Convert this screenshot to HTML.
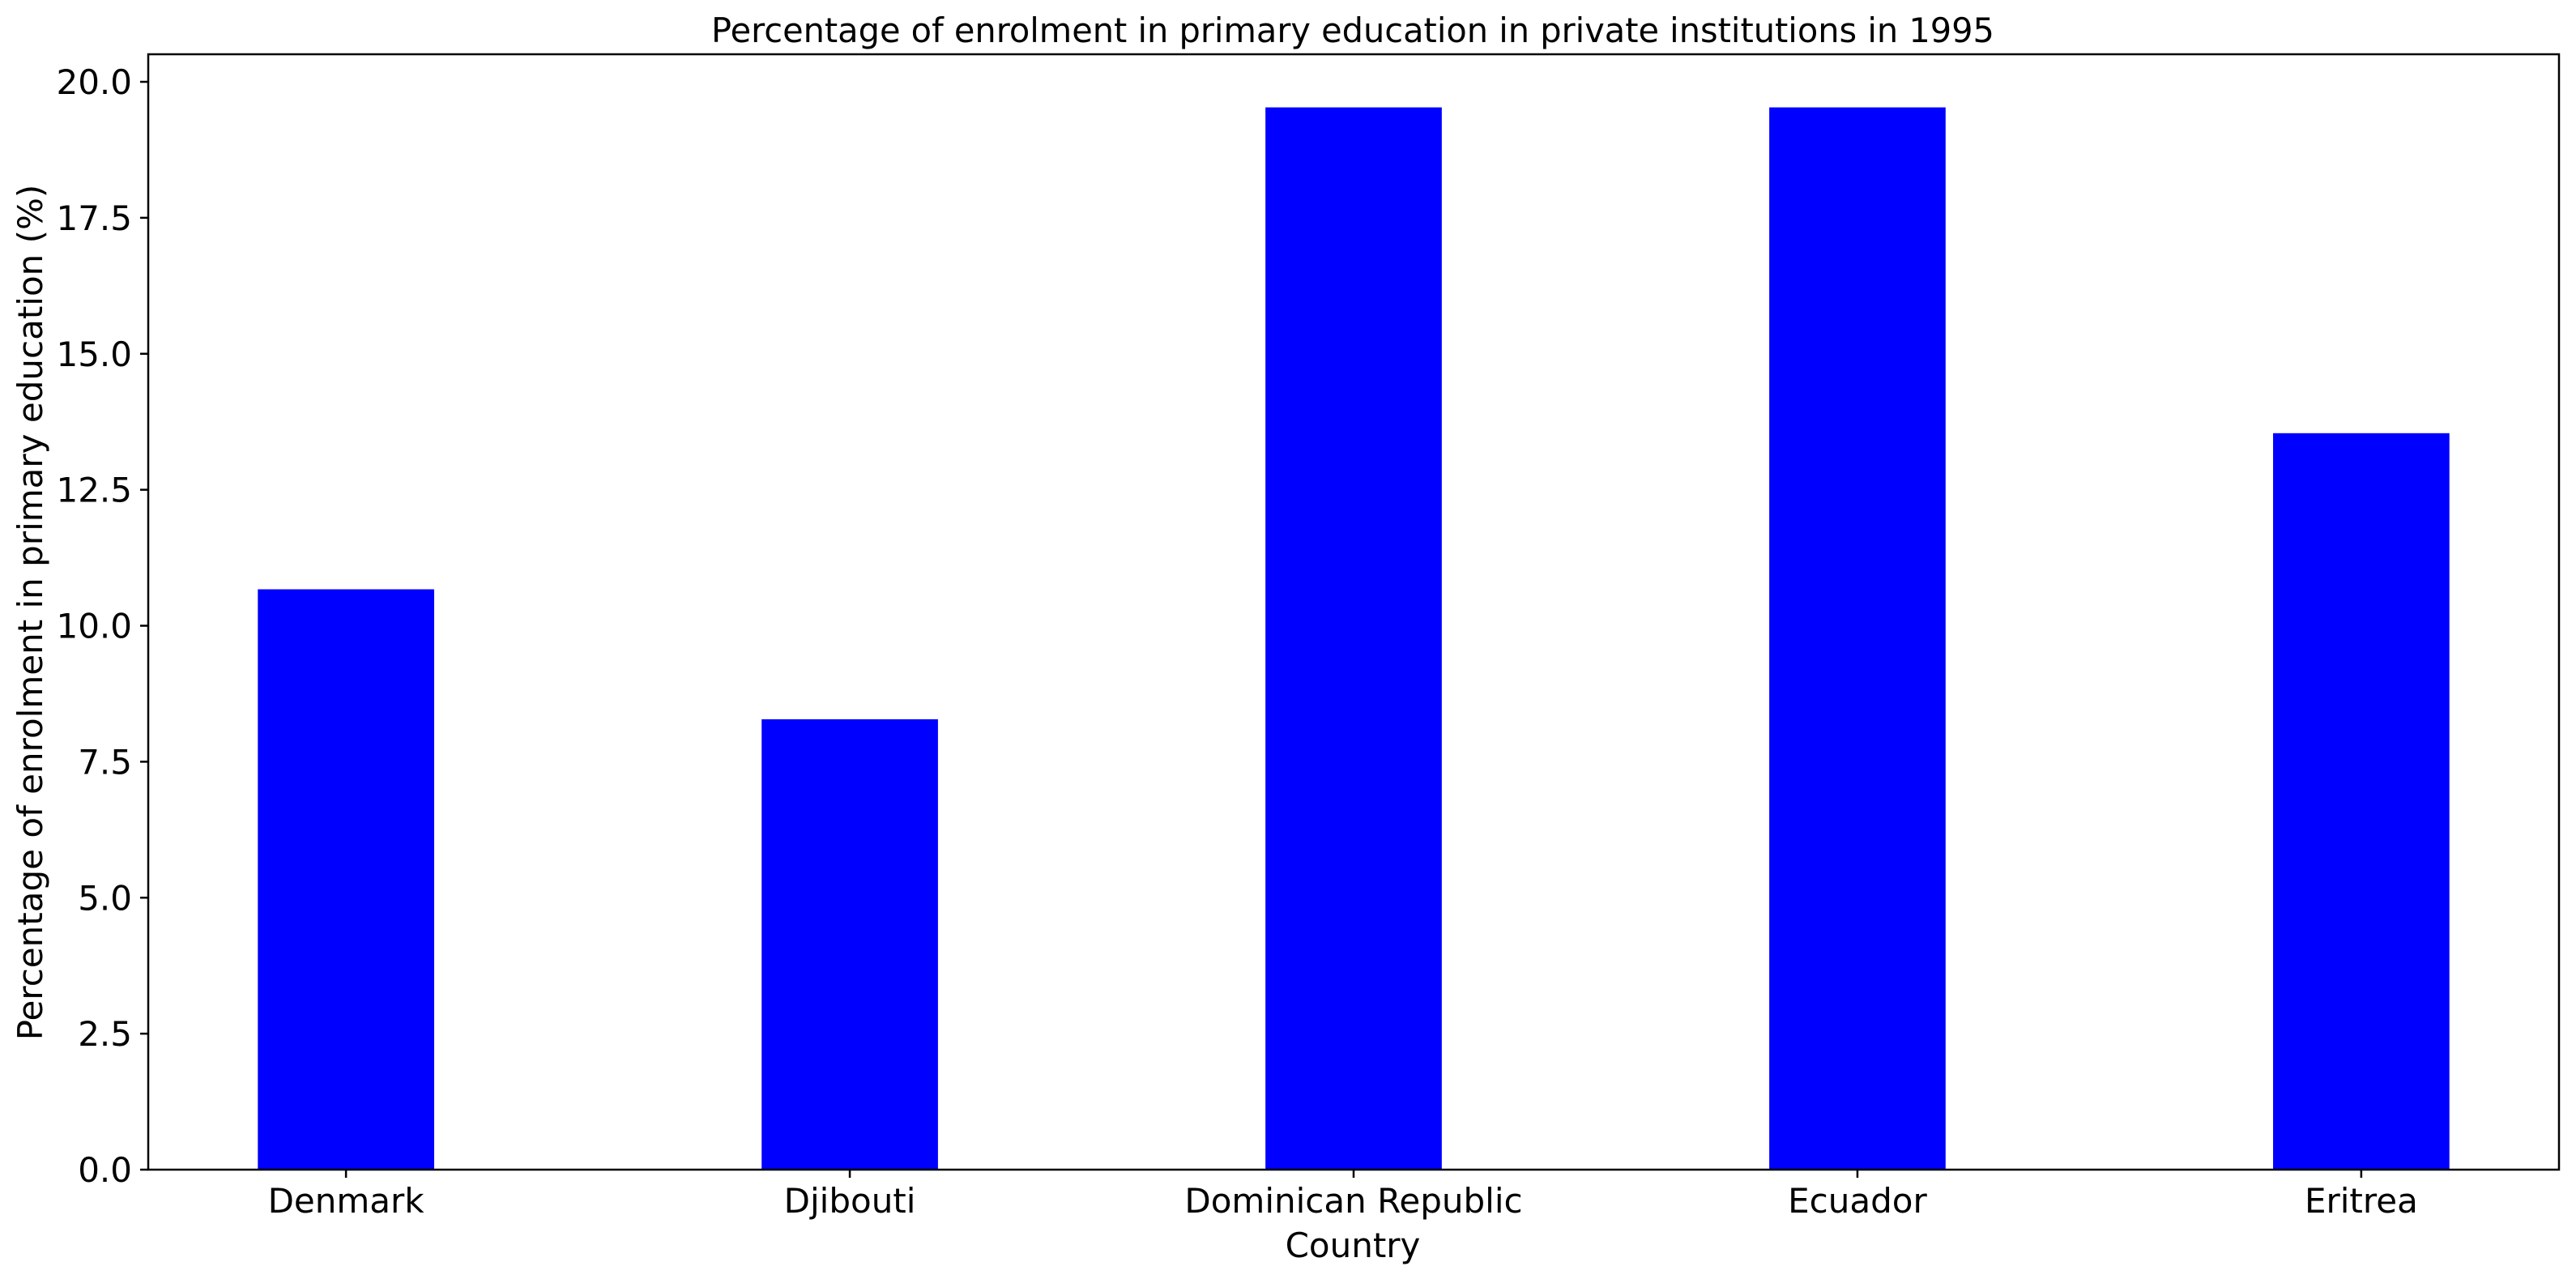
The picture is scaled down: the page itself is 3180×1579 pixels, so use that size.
<!DOCTYPE html>
<html><head><meta charset="utf-8"><style>
html,body{margin:0;padding:0;background:#fff;}
svg{display:block;font-family:"DejaVu Sans","Liberation Sans",sans-serif;}
</style></head><body>
<svg id="chart" width="3180" height="1579" viewBox="0 0 3180 1579" xmlns="http://www.w3.org/2000/svg">
<rect width="3180" height="1579" fill="#fff"/>
<text x="1670" y="52" text-anchor="middle" font-size="41.5">Percentage of enrolment in primary education in private institutions in 1995</text>
<g id="plot"></g>
<text x="1670" y="1552" text-anchor="middle" font-size="42">Country</text>
<text transform="translate(52,756) rotate(-90)" text-anchor="middle" font-size="42">Percentage of enrolment in primary education (%)</text>
</svg>
<script>
const categories = ["Denmark","Djibouti","Dominican Republic","Ecuador","Eritrea"];
const values = [10.67, 8.28, 19.53, 19.53, 13.54];
const yTicks = [0, 2.5, 5, 7.5, 10, 12.5, 15, 17.5, 20];
const yTickLabels = ["0.0","2.5","5.0","7.5","10.0","12.5","15.0","17.5","20.0"];

const NS = "http://www.w3.org/2000/svg";
const L = 183, R = 3159, T = 67, B = 1444;
const barW = 0.35;
const yMax = Math.max(...values) * 1.05;
const xMin = -barW/2 - 0.05*(categories.length - 1 + barW);
const xMax = categories.length - 1 + barW/2 + 0.05*(categories.length - 1 + barW);
function xs(v){ return L + (v - xMin) / (xMax - xMin) * (R - L); }
function ys(v){ return B - v / yMax * (B - T); }
const g = document.getElementById('plot');
function mk(tag, attrs){ const e = document.createElementNS(NS, tag); for (const k in attrs) e.setAttribute(k, attrs[k]); g.appendChild(e); return e; }

values.forEach((v, i) => {
  const r = mk('rect', {x: xs(i - barW/2), y: ys(v), width: xs(i + barW/2) - xs(i - barW/2), height: ys(0) - ys(v), fill: '#0000ff'});
  
  
});

const frame = mk('rect', {x: L, y: T, width: R - L, height: B - T, fill: 'none', stroke: '#000', 'stroke-width': 2.5});



yTicks.forEach((t, i) => {
  const y = ys(t);
  const tk = mk('line', {x1: L - 10, x2: L, y1: y, y2: y, stroke: '#000', 'stroke-width': 2.5});
  
  
  const tx = mk('text', {x: L - 20, y: y + 15, 'text-anchor': 'end', 'font-size': 42});
  tx.textContent = yTickLabels[i];
  
  
});

categories.forEach((c, i) => {
  const x = xs(i);
  const tk = mk('line', {x1: x, x2: x, y1: B, y2: B + 10, stroke: '#000', 'stroke-width': 2.5});
  
  
  const tx = mk('text', {x: x, y: B + 53, 'text-anchor': 'middle', 'font-size': 42});
  tx.textContent = c;
  
  
});
</script>
</body></html>
